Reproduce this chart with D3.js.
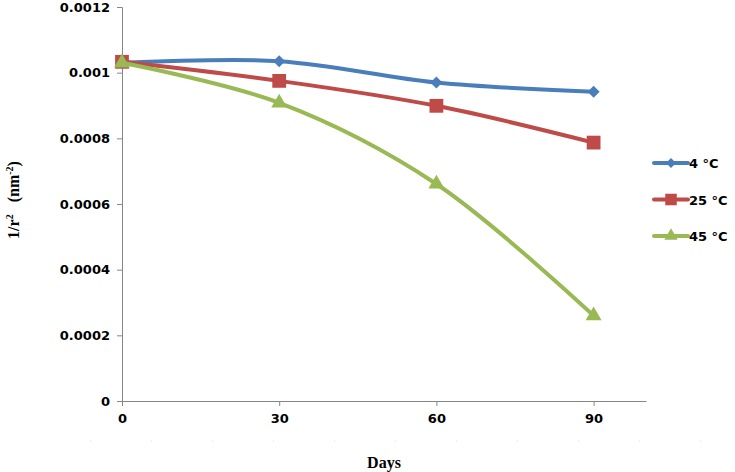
<!DOCTYPE html>
<html>
<head>
<meta charset="utf-8">
<script src="https://cdn.jsdelivr.net/npm/d3@7"></script>
<style>
  body { margin: 0; background: #fff; }
  svg text { font-family: "DejaVu Sans", Verdana, sans-serif; font-weight: bold; }
</style>
</head>
<body>
<svg id="chart" width="735" height="472"></svg>
<script>
// data
let days = [0, 30, 60, 90];
let temp4 = [0.00103, 0.001035, 0.00097, 0.000942];
let temp25 = [0.001033, 0.000975, 0.000899, 0.000787];
let temp45 = [0.00103, 0.000908, 0.000661, 0.00026];
let seriesNames = ["4 °C", "25 °C", "45 °C"];
let yTicks = [0, 0.0002, 0.0004, 0.0006, 0.0008, 0.001, 0.0012];

let svg = d3.select("#chart");

let x = d3.scaleLinear().domain([0, 100]).range([122, 646]);
let y = d3.scaleLinear().domain([0, 0.0012]).range([401, 7]);

// diamond = square turned 45 degrees
let series = [
    { name: seriesNames[0], values: temp4, color: "#4a7ebb", shape: d3.symbolSquare, size: 72, rot: 45 },
    { name: seriesNames[1], values: temp25, color: "#be4b48", shape: d3.symbolSquare, size: 190, rot: 0 },
    { name: seriesNames[2], values: temp45, color: "#98b954", shape: d3.symbolTriangle, size: 110, rot: 0 }
];

// y axis
let yAxis = svg.append("g")
    .attr("transform", "translate(122,0)")
    .call(d3.axisLeft(y).tickValues(yTicks).tickSize(5).tickPadding(7)
        .tickFormat(d => d === 0 ? "0" : String(+d.toFixed(4))));
yAxis.select(".domain").attr("stroke", "#868686");
yAxis.selectAll(".tick line").attr("stroke", "#868686");
yAxis.selectAll("text").attr("font-size", 13).attr("fill", "#000");

// x axis
let xAxis = svg.append("g")
    .attr("transform", "translate(0,401)")
    .call(d3.axisBottom(x).tickValues(days).tickSize(5).tickPadding(8).tickSizeOuter(0));
xAxis.select(".domain").attr("stroke", "#868686");
xAxis.selectAll(".tick line").attr("stroke", "#868686");
xAxis.selectAll("text").attr("font-size", 13).attr("fill", "#000");

// faint dotted row under the labels
svg.append("line")
    .attr("x1", 90).attr("x2", 735)
    .attr("y1", 441).attr("y2", 441)
    .attr("stroke", "#ddd")
    .attr("stroke-dasharray", "1,60");

// axis titles
svg.append("text")
    .attr("x", 384).attr("y", 468)
    .attr("text-anchor", "middle")
    .style("font-family", "'Liberation Serif', 'Times New Roman', serif")
    .attr("font-size", 16)
    .text("Days");

let yTitle = svg.append("text")
    .attr("transform", "translate(19,200) rotate(-90)")
    .attr("text-anchor", "middle")
    .style("font-family", "'Liberation Serif', 'Times New Roman', serif")
    .style("white-space", "pre")
    .attr("font-size", 16);
yTitle.append("tspan").text("1/r");
yTitle.append("tspan").attr("dy", -6).attr("font-size", 10).text("2");
yTitle.append("tspan").attr("dy", 6).text("   (nm");
yTitle.append("tspan").attr("dy", -6).attr("font-size", 10).text("-2");
yTitle.append("tspan").attr("dy", 6).text(")");

let line = d3.line()
    .x((d, i) => x(days[i]))
    .y(d => y(d))
    .curve(d3.curveCatmullRom.alpha(0.5));

let sym = d3.symbol();

series.forEach(function (s) {
    svg.append("path")
        .attr("d", line(s.values))
        .attr("fill", "none")
        .attr("stroke", s.color)
        .attr("stroke-width", 4)
        .attr("stroke-linecap", "round");

    svg.selectAll(null)
        .data(s.values)
        .enter().append("path")
        .attr("transform", (d, i) => "translate(" + x(days[i]) + "," + y(d) + ") rotate(" + s.rot + ")")
        .attr("d", sym.type(s.shape).size(s.size)())
        .attr("fill", s.color);
});

// legend
let legend = svg.append("g");
series.forEach(function (s, i) {
    let ly = 163 + i * 36.5;
    legend.append("line")
        .attr("x1", 654).attr("x2", 688)
        .attr("y1", ly).attr("y2", ly)
        .attr("stroke", s.color)
        .attr("stroke-width", 4)
        .attr("stroke-linecap", "round");
    legend.append("path")
        .attr("transform", "translate(671," + ly + ") rotate(" + s.rot + ")")
        .attr("d", sym.type(s.shape).size(s.size * 0.7)())
        .attr("fill", s.color);
    legend.append("text")
        .attr("x", 689).attr("y", ly + 5)
        .attr("font-size", 13)
        .text(s.name);
});
</script>
</body>
</html>
